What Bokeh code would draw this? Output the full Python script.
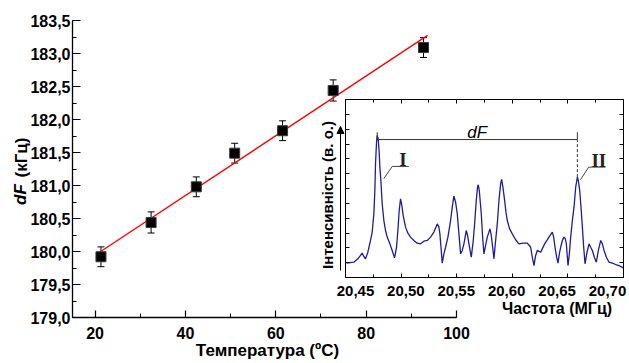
import numpy as np
from bokeh.plotting import figure
from bokeh.models import (Range1d, LinearAxis, SingleIntervalTicker, FixedTicker,
                          CustomJSTickFormatter, Whisker, ColumnDataSource,
                          Arrow, NormalHead)
from bokeh.embed import file_html
from bokeh.resources import INLINE
from bokeh.core.properties import value

# ---------------- main plot data ----------------
temperature = [21.3, 32.4, 42.4, 50.9, 61.5, 72.7, 92.7]
dF_khz = [179.92, 180.44, 180.98, 181.49, 181.83, 182.44, 183.09]
dF_err = [0.15, 0.16, 0.15, 0.15, 0.15, 0.16, 0.15]

main_x_range = (15, 100)
main_y_range = (179.0, 183.5)

# ---------------- inset spectrum data ----------------
freq_mhz = [
    20.4509, 20.4575, 20.4611, 20.4635, 20.4650, 20.4665, 20.4680, 20.4701, 20.4725, 20.4740,
    20.4755, 20.4764, 20.4770, 20.4779, 20.4785, 20.4794, 20.4803, 20.4809, 20.4818, 20.4830,
    20.4845, 20.4860, 20.4875, 20.4899, 20.4920, 20.4941, 20.4959, 20.4971, 20.4983, 20.4995,
    20.5007, 20.5019, 20.5040, 20.5061, 20.5085, 20.5115, 20.5145, 20.5175, 20.5205, 20.5235,
    20.5265, 20.5295, 20.5325, 20.5340, 20.5349, 20.5361, 20.5370, 20.5385, 20.5400, 20.5421,
    20.5445, 20.5460, 20.5475, 20.5490, 20.5505, 20.5520, 20.5535, 20.5550, 20.5565, 20.5586,
    20.5598, 20.5610, 20.5631, 20.5649, 20.5661, 20.5676, 20.5688, 20.5694, 20.5703, 20.5721,
    20.5733, 20.5745, 20.5760, 20.5775, 20.5799, 20.5811, 20.5820, 20.5835, 20.5850, 20.5865,
    20.5880, 20.5895, 20.5904, 20.5916, 20.5931, 20.5943, 20.5955, 20.5976, 20.6000, 20.6030,
    20.6060, 20.6099, 20.6135, 20.6165, 20.6180, 20.6195, 20.6210, 20.6225, 20.6255, 20.6291,
    20.6330, 20.6360, 20.6372, 20.6384, 20.6399, 20.6411, 20.6423, 20.6435, 20.6450, 20.6465,
    20.6477, 20.6486, 20.6501, 20.6513, 20.6525, 20.6540, 20.6555, 20.6570, 20.6585, 20.6594,
    20.6606, 20.6618, 20.6630, 20.6642, 20.6654, 20.6672, 20.6690, 20.6705, 20.6720, 20.6738,
    20.6756, 20.6774, 20.6795, 20.6810, 20.6825, 20.6846, 20.6870, 20.6900, 20.6930, 20.6960,
    20.6999]
intensity = [
    0.081, 0.086, 0.105, 0.124, 0.137, 0.118, 0.105, 0.142, 0.208, 0.255,
    0.358, 0.489, 0.639, 0.760, 0.798, 0.779, 0.704, 0.620, 0.545, 0.414,
    0.320, 0.264, 0.227, 0.189, 0.152, 0.110, 0.170, 0.264, 0.376, 0.442,
    0.404, 0.348, 0.283, 0.249, 0.227, 0.208, 0.193, 0.189, 0.204, 0.208,
    0.227, 0.255, 0.301, 0.283, 0.245, 0.152, 0.081, 0.133, 0.170, 0.227,
    0.320, 0.395, 0.457, 0.423, 0.358, 0.245, 0.133, 0.152, 0.189, 0.264,
    0.236, 0.189, 0.114, 0.208, 0.301, 0.433, 0.511, 0.521, 0.489, 0.358,
    0.227, 0.133, 0.180, 0.227, 0.273, 0.236, 0.189, 0.105, 0.208, 0.301,
    0.433, 0.526, 0.551, 0.507, 0.433, 0.367, 0.320, 0.273, 0.245, 0.212,
    0.189, 0.193, 0.193, 0.170, 0.114, 0.067, 0.124, 0.152, 0.142, 0.189,
    0.227, 0.255, 0.227, 0.170, 0.114, 0.081, 0.133, 0.170, 0.208, 0.227,
    0.217, 0.189, 0.067, 0.133, 0.227, 0.320, 0.395, 0.507, 0.564, 0.545,
    0.489, 0.395, 0.283, 0.170, 0.077, 0.142, 0.189, 0.170, 0.152, 0.114,
    0.086, 0.152, 0.208, 0.189, 0.152, 0.114, 0.086, 0.081, 0.073, 0.067,
    0.054]
inset_ticks = [20.45, 20.50, 20.55, 20.60, 20.65, 20.70]
inset_tick_labels = ["20,45", "20,50", "20,55", "20,60", "20,65", "20,70"]
inset_x_range = (20.45, 20.70)
inset_label_range = (20.4401, 20.7159)   # where the printed labels sit
inset_y_range = (0.0, 1.0)
inset_y_ticks = list(np.arange(13) / 12)

bracket_y = 0.775
bracket_top = 0.816
leader_I_x = [20.4844, 20.492, 20.507]
leader_I_y = [0.555, 0.624, 0.624]
leader_II_x = [20.6613, 20.6687, 20.6837]
leader_II_y = [0.549, 0.620, 0.620]

FONT = "Liberation Sans"
PAGE_W, PAGE_H = 629, 363

# ================= main figure =================
p = figure(width=470, height=363, x_range=Range1d(*main_x_range),
           y_range=Range1d(*main_y_range), output_backend="svg", toolbar_location=None,
           min_border_left=72, min_border_right=14, min_border_top=20, min_border_bottom=46)
p.outline_line_color = None
p.grid.visible = False
p.background_fill_color = "white"
p.border_fill_color = "white"

xa = p.xaxis[0]
xa.ticker = SingleIntervalTicker(interval=20, num_minor_ticks=2)
xa.formatter = CustomJSTickFormatter(code="return tick.toFixed(0)")
ya = p.yaxis[0]
ya.ticker = SingleIntervalTicker(interval=0.5, num_minor_ticks=2)
ya.formatter = CustomJSTickFormatter(code="return tick.toFixed(1).replace('.', ',')")
for ax, tin, standoff in ((xa, 7, 9), (ya, 8, 2)):
    ax.axis_line_color = "black"
    ax.axis_line_width = 1.3
    ax.major_tick_in = tin
    ax.major_tick_out = 0
    ax.minor_tick_in = 4
    ax.minor_tick_out = 0
    ax.major_tick_line_color = "black"
    ax.minor_tick_line_color = "black"
    ax.major_tick_line_width = 1.2
    ax.major_label_text_font = FONT
    ax.major_label_text_font_style = "bold"
    ax.major_label_text_font_size = "16px"
    ax.major_label_text_color = "black"
    ax.major_label_standoff = standoff

src = ColumnDataSource(dict(
    x=temperature, y=dF_khz,
    lo=list(np.array(dF_khz) - np.array(dF_err)),
    hi=list(np.array(dF_khz) + np.array(dF_err))))

slope, intercept = np.polyfit(temperature, dF_khz, 1)
fit_x = np.array([min(temperature) - 0.4, max(temperature) + 0.9])
p.line(fit_x, slope * fit_x + intercept, line_color="#ff0000", line_width=1.4)

p.scatter("x", "y", source=src, marker="square", size=10,
          fill_color="black", line_color="#3a3a3a", line_width=1)
wh = Whisker(base="x", upper="hi", lower="lo", source=src,
             line_color="black", line_width=1)
wh.upper_head.size = 7
wh.lower_head.size = 7
wh.upper_head.line_color = "black"
wh.lower_head.line_color = "black"
p.add_layout(wh)

# ================= inset figure =================
q = figure(width=315, height=232, x_range=Range1d(*inset_x_range),
           y_range=Range1d(*inset_y_range), output_backend="svg", toolbar_location=None,
           min_border_left=33, min_border_right=4, min_border_top=9, min_border_bottom=45)
q.styles = {"position": "absolute", "left": "312px", "top": "90px"}
q.grid.visible = False
q.background_fill_color = "white"
q.border_fill_alpha = 0
q.outline_line_color = "black"
q.extra_x_ranges = {"lab": Range1d(*inset_label_range)}

def tick_only(ax):
    ax.axis_line_color = "black"
    ax.axis_line_width = 1
    ax.major_tick_in = 4
    ax.major_tick_out = 0
    ax.minor_tick_in = 3
    ax.minor_tick_out = 0
    ax.major_tick_line_color = "black"
    ax.minor_tick_line_color = "black"
    ax.formatter = CustomJSTickFormatter(code="return ''")
    ax.major_label_text_font_size = "1px"
    ax.major_label_standoff = 0

qb = q.xaxis[0]
qb.ticker = SingleIntervalTicker(interval=0.05, num_minor_ticks=2)
tick_only(qb)
qt = LinearAxis(ticker=SingleIntervalTicker(interval=0.05, num_minor_ticks=2))
tick_only(qt)
q.add_layout(qt, "above")
ql = q.yaxis[0]
ql.ticker = FixedTicker(ticks=inset_y_ticks)
tick_only(ql)
ql.minor_tick_line_color = None
qr = LinearAxis(ticker=FixedTicker(ticks=inset_y_ticks))
tick_only(qr)
qr.minor_tick_line_color = None
q.add_layout(qr, "right")

fmt_labels = ("const labs = %s; const t = %s; let best = 0; "
              "for (let i = 0; i < t.length; i++) { if (Math.abs(t[i]-tick) < Math.abs(t[best]-tick)) best = i; } "
              "return labs[best];") % (str(inset_tick_labels).replace("'", '"'), str(inset_ticks))
lab_axis = LinearAxis(x_range_name="lab", ticker=FixedTicker(ticks=inset_ticks),
                      formatter=CustomJSTickFormatter(code=fmt_labels))
lab_axis.axis_line_color = None
lab_axis.major_tick_line_color = None
lab_axis.minor_tick_line_color = None
lab_axis.major_label_standoff = 2
lab_axis.major_label_text_font = FONT
lab_axis.major_label_text_font_style = "bold"
lab_axis.major_label_text_font_size = "15px"
lab_axis.major_label_text_color = "black"
q.add_layout(lab_axis, "below")

q.line(freq_mhz, intensity, line_color="#1c1ca0", line_width=1.3)

i_peak1 = int(np.argmax(intensity))
mask2 = np.array(freq_mhz) > 20.62
i_peak2 = int(np.where(mask2)[0][np.argmax(np.array(intensity)[mask2])])
f1, f2 = freq_mhz[i_peak1], freq_mhz[i_peak2]

q.segment(x0=[f1, f1, f2], y0=[bracket_y, bracket_y, bracket_y],
          x1=[f2, f1, f2], y1=[bracket_y, bracket_top, bracket_top],
          line_color="#333333", line_width=1)
q.segment(x0=[f2], y0=[intensity[i_peak2]], x1=[f2], y1=[bracket_y],
          line_color="#333333", line_width=1, line_dash="3 2")
q.line(leader_I_x, leader_I_y, line_color="#444444", line_width=1)
q.line(leader_II_x, leader_II_y, line_color="#444444", line_width=1)

q.text(x=[(f1 + f2) / 2], y=[bracket_y], y_offset=-7, text=["dF"],
       text_font=value(FONT), text_font_style="italic", text_font_size="17px",
       text_align="center", text_baseline="middle", text_color="black")
q.text(x=[leader_I_x[1] + 0.0097, leader_II_x[1] + 0.0091],
       y=[leader_I_y[1], leader_II_y[1]], y_offset=-7, text=["I", "II"],
       text_font=value("Liberation Serif"), text_font_style="bold",
       text_font_size="19px", text_align="center", text_baseline="middle",
       text_color="#222222")

# ================= overlay for free-standing titles =================
o = figure(width=PAGE_W, height=PAGE_H, x_range=Range1d(0, PAGE_W),
           y_range=Range1d(0, PAGE_H), output_backend="svg", toolbar_location=None,
           x_axis_location=None, y_axis_location=None, min_border=0)
o.styles = {"position": "absolute", "left": "0px", "top": "0px"}
o.grid.visible = False
o.outline_line_color = None
o.background_fill_alpha = 0
o.border_fill_alpha = 0

def up(y):  # page pixel row -> overlay y
    return PAGE_H - y

o.text(x=[20], y=[up(194)], text=["dF"], angle=np.pi / 2,
       text_font=value(FONT), text_font_style="bold italic", text_font_size="17px",
       text_align="center", text_baseline="middle", text_color="black")
o.text(x=[21], y=[up(157)], text=["(кГц)"], angle=np.pi / 2,
       text_font=value(FONT), text_font_style="bold", text_font_size="17px",
       text_align="center", text_baseline="middle", text_color="black")
o.text(x=[267], y=[up(350)], text=["Температура (ºC)"],
       text_font=value(FONT), text_font_style="bold", text_font_size="17px",
       text_align="center", text_baseline="middle", text_color="black")
o.text(x=[327], y=[up(194.5)], text=["Інтенсивність (в. о.)"], angle=np.pi / 2,
       text_font=value(FONT), text_font_style="bold", text_font_size="15px",
       text_align="center", text_baseline="middle", text_color="black")
o.text(x=[556.5], y=[up(307.5)], text=["Частота (МГц)"],
       text_font=value(FONT), text_font_style="bold", text_font_size="16px",
       text_align="center", text_baseline="middle", text_color="black")
o.add_layout(Arrow(end=NormalHead(size=7, fill_color="black", line_color="black"),
                   x_start=340, y_start=up(270), x_end=340, y_end=up(126),
                   line_color="black", line_width=1))

open("out.html", "w").write(file_html([p, q, o], INLINE))
